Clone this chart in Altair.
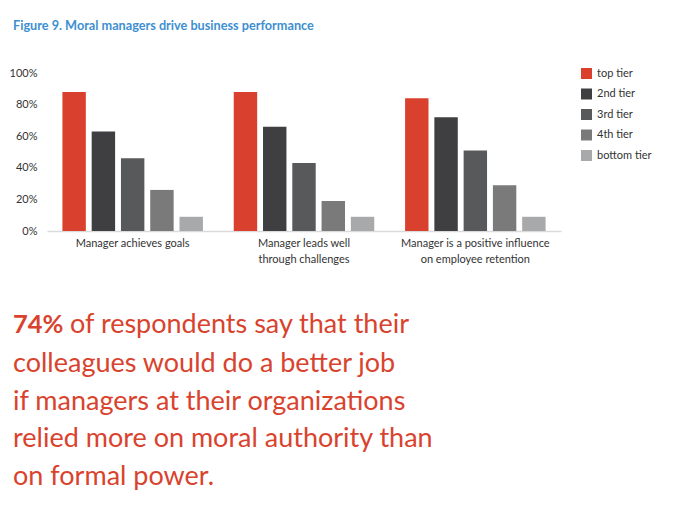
import altair as alt
import pandas as pd

categories = ["Manager achieves goals",
              "Manager leads well|through challenges",
              "Manager is a positive influence|on employee retention"]
tiers = ["top tier", "2nd tier", "3rd tier", "4th tier", "bottom tier"]
colors = ["#d9412e", "#3f3f41", "#58595b", "#7a7a7b", "#a8a9ab"]
values = {
    "Manager achieves goals": [88, 63, 46, 26, 9],
    "Manager leads well|through challenges": [88, 66, 43, 19, 9],
    "Manager is a positive influence|on employee retention": [84, 72, 51, 29, 9],
}
title_text = ["Figure 9. Moral managers drive business performance"]
big_bold = ["74%"]
big_first = ["of respondents say that their"]
big_rest = ["colleagues would do a better job",
            "if managers at their organizations",
            "relied more on moral authority than",
            "on formal power."]

rows = []
for c in categories:
    for t, v in zip(tiers, values[c]):
        rows.append({"category": c, "tier": t, "value": v})
df = pd.DataFrame(rows)

FONT = "Lato"
RED = "#d9432e"

bars = alt.Chart(df).mark_bar().encode(
    x=alt.X("category:N", sort=categories, title=None,
            scale=alt.Scale(paddingInner=0.18, paddingOuter=0.09),
            axis=alt.Axis(labelExpr="split(datum.label, '|')", labelAngle=0,
                          ticks=False, labelPadding=6, labelLineHeight=16,
                          labelFontSize=11, labelColor="#333333", labelFont=FONT,
                          domainColor="#dadada", domainWidth=1.5)),
    xOffset=alt.XOffset("tier:N", sort=tiers,
                        scale=alt.Scale(paddingInner=0.2, paddingOuter=0)),
    y=alt.Y("value:Q", title=None, scale=alt.Scale(domain=[0, 100]),
            axis=alt.Axis(values=[0, 20, 40, 60, 80, 100],
                          labelExpr="datum.value + '%'", domain=False, grid=False,
                          ticks=False, labelPadding=10, labelFontSize=11,
                          labelColor="#333333", labelFont=FONT)),
    color=alt.Color("tier:N", sort=tiers,
                    scale=alt.Scale(domain=tiers, range=colors),
                    legend=alt.Legend(title=None, orient="none", legendX=534, legendY=-5,
                                      symbolType="square", symbolSize=121,
                                      symbolStrokeWidth=0, rowPadding=8.5,
                                      labelFontSize=11, labelColor="#333333",
                                      labelFont=FONT, labelOffset=5, padding=0)),
)

title = alt.Chart(pd.DataFrame({"t": title_text})).mark_text(
    align="left", baseline="middle", font=FONT, fontWeight="bold",
    fontSize=12.7, color="#3d8fd1"
).encode(x=alt.value(-34), y=alt.value(-47), text="t:N")

bold = alt.Chart(pd.DataFrame({"t": big_bold})).mark_text(
    align="left", baseline="alphabetic", font=FONT, fontWeight="bold",
    fontSize=25.5, color=RED
).encode(x=alt.value(-34), y=alt.value(260), text="t:N")

first = alt.Chart(pd.DataFrame({"t": big_first})).mark_text(
    align="left", baseline="alphabetic", font=FONT, fontWeight="normal",
    fontSize=27, color=RED
).encode(x=alt.value(23), y=alt.value(260), text="t:N")

rest = alt.Chart(pd.DataFrame({"t": ["|".join(big_rest)]})).mark_text(
    align="left", baseline="alphabetic", font=FONT, fontWeight="normal",
    fontSize=27, color=RED, lineBreak="|", lineHeight=37.7
).encode(x=alt.value(-34), y=alt.value(299), text="t:N")

chart = alt.layer(bars, title, bold, first, rest).properties(
    width=514, height=158,
    autosize=alt.AutoSizeParams(type="none"),
    padding={"left": 39, "top": 65, "right": 111, "bottom": 281},
    background="white",
).configure_view(stroke=None, strokeWidth=0)

chart.save("out.html", embed_options={"renderer": "svg", "actions": False})
